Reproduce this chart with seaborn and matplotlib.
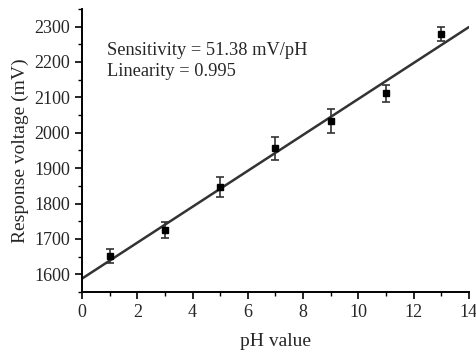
import numpy as np
import pandas as pd
import seaborn as sns
import matplotlib.pyplot as plt
from matplotlib.ticker import MultipleLocator

#### data
ph = [1, 3, 5, 7, 9, 11, 13]
voltage = [1652, 1725, 1846, 1956, 2033, 2112, 2279]
err = [20, 22, 28, 32, 33, 24, 19]
sens_text = "Sensitivity = 51.38 mV/pH"
lin_text = "Linearity = 0.995"

df = pd.DataFrame({"ph": ph, "voltage": voltage, "err": err})

sns.set_style("ticks")
plt.rcParams['font.family'] = ['Liberation Serif', 'DejaVu Serif']

fig = plt.figure(figsize=(4.77, 3.54), dpi=100)
ax = fig.add_axes([0.172, 0.175, 0.811, 0.80])

ax.set_xlim(0, 14)
ax.set_ylim(1550, 2350)

## fitted line across the whole x range
sns.regplot(data=df, x="ph", y="voltage", scatter=False, ci=None, truncate=False,
            ax=ax, line_kws=dict(color="#333333", lw=1.8))

ax.errorbar(df["ph"], df["voltage"], yerr=df["err"], fmt="s", color="black",
            markersize=5, ecolor="#333333", elinewidth=1.2, capsize=3, capthick=1.2)

ax.text(0.92, 2232, sens_text, fontsize=13.2, va="center")
ax.text(0.92, 2172, lin_text, fontsize=13.2, va="center")

ax.set_xlabel("pH value", fontsize=14, labelpad=9)
ax.set_ylabel("Response voltage (mV)", fontsize=14, labelpad=4)

ax.xaxis.set_major_locator(MultipleLocator(2))
ax.xaxis.set_minor_locator(MultipleLocator(1))
ax.set_yticks(np.arange(1600, 2301, 100))
ax.yaxis.set_minor_locator(MultipleLocator(50))

ax.tick_params(which="major", direction="out", length=5, width=1.2, labelsize=13, color="black")
ax.tick_params(which="minor", direction="out", length=3, width=1.0, color="black")
sns.despine(ax=ax)
for s in ["left", "bottom"]:
    ax.spines[s].set_linewidth(1.4)
    ax.spines[s].set_color("black")

fig.savefig("out.png", dpi=100)
